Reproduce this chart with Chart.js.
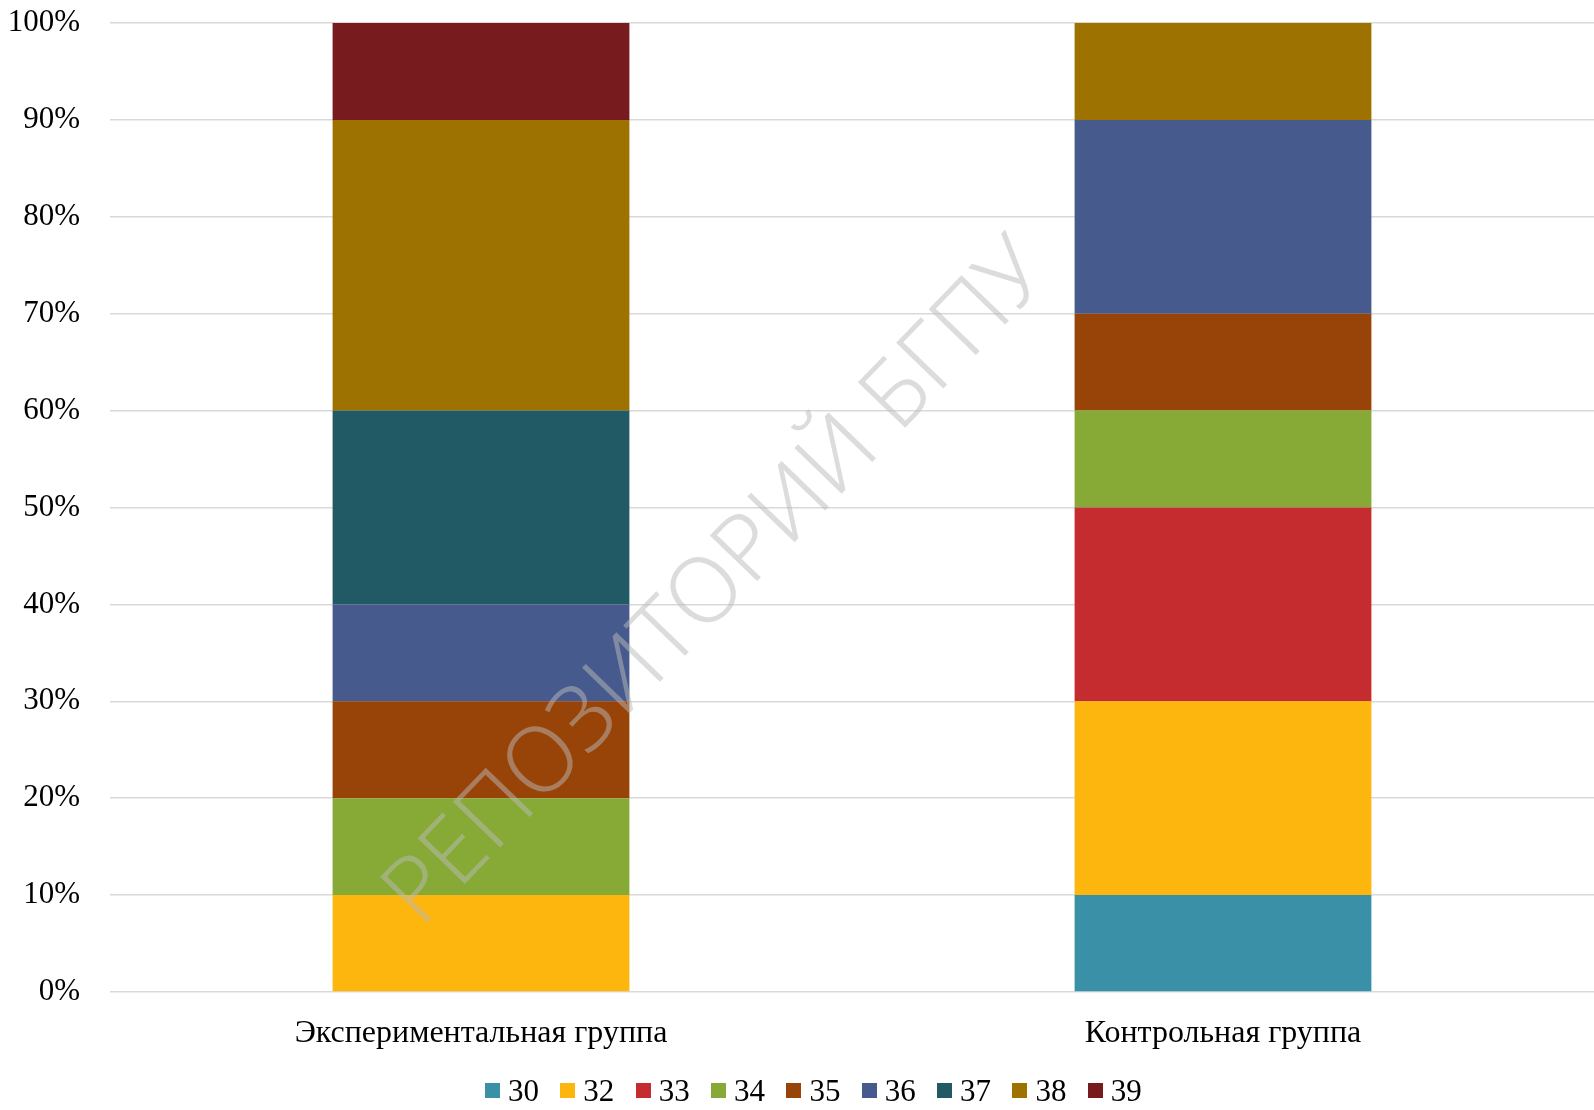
<!DOCTYPE html>
<html>
<head>
<meta charset="utf-8">
<script src="https://cdn.jsdelivr.net/npm/chart.js@4"></script>
<style>
  html, body { margin: 0; padding: 0; background: #fff; }
  #wrap { position: relative; width: 1594px; height: 1110px; }
  #legend {
    position: absolute; left: 485px; top: 1070px; height: 40px;
    display: flex; align-items: center;
    font-family: 'Liberation Serif', 'Times New Roman', serif; font-size: 31px; line-height: 1;
  }
  #legend .item { display: flex; align-items: center; width: 75.35px; }
  #legend .box { width: 15px; height: 15px; margin-right: 8px; }
</style>
</head>
<body>
<div id="wrap">
  <canvas id="chart" width="1594" height="1110"></canvas>
  <div id="legend"></div>
</div>
<script>
const groups = ["Экспериментальная группа", "Контрольная группа"];
const seriesNames = ["30", "32", "33", "34", "35", "36", "37", "38", "39"];
const seriesColors = ["#3A91A7", "#FDB60D", "#C42C2F", "#86AA35", "#984307", "#475A8D", "#215A65", "#9E7200", "#771B1E"];
// percent of each group, per score
const experimental = [0, 10, 0, 10, 10, 10, 20, 30, 10];
const control = [10, 20, 20, 10, 10, 20, 0, 10, 0];
const yTicks = [0, 10, 20, 30, 40, 50, 60, 70, 80, 90, 100];

const serif = "'Liberation Serif', 'Times New Roman', serif";

const watermark = {
  id: "watermark",
  afterDraw(chart) {
    const ctx = chart.ctx;
    ctx.save();
    ctx.translate(718, 584);
    ctx.rotate(-46 * Math.PI / 180);
    ctx.font = "300 92px 'Noto Sans', sans-serif";
    ctx.fillStyle = "rgba(185,185,185,0.5)";
    ctx.textAlign = "center";
    ctx.textBaseline = "middle";
    ctx.fillText("РЕПОЗИТОРИЙ БГПУ", 0, 0);
    ctx.restore();
  }
};

const datasets = seriesNames.map((name, i) => ({
  label: name,
  data: [experimental[i], control[i]],
  backgroundColor: seriesColors[i],
  borderWidth: 0,
  barPercentage: 0.5,
  categoryPercentage: 0.8,
}));

const chart = new Chart(document.getElementById("chart"), {
  type: "bar",
  data: { labels: groups, datasets: datasets },
  plugins: [watermark],
  options: {
    responsive: false,
    animation: false,
    layout: { padding: { top: 23, left: 0, right: 0, bottom: 47 } },
    plugins: {
      tooltip: { enabled: false },
      legend: { display: false },
    },
    scales: {
      x: {
        stacked: true,
        grid: { display: false, drawTicks: false },
        border: { display: false },
        ticks: { color: "#000", padding: 22, font: { family: serif, size: 32 } },
        afterFit: (axis) => { axis.height = 71; },
      },
      y: {
        stacked: true,
        min: 0,
        max: 100,
        afterBuildTicks: (axis) => { axis.ticks = yTicks.map(v => ({ value: v })); },
        afterFit: (axis) => { axis.width = 110; axis.paddingTop = 0; axis.paddingBottom = 0; },
        grid: { color: "#d9d9d9", lineWidth: 1.5, drawTicks: false },
        border: { display: false },
        ticks: {
          color: "#000",
          padding: 30,
          font: { family: serif, size: 31 },
          callback: (v) => v + "%",
        },
      },
    },
  },
});

// legend built from the chart's own datasets
const legendEl = document.getElementById("legend");
chart.data.datasets.forEach((ds) => {
  const item = document.createElement("div");
  item.className = "item";
  const box = document.createElement("span");
  box.className = "box";
  box.style.background = ds.backgroundColor;
  const txt = document.createElement("span");
  txt.textContent = ds.label;
  item.appendChild(box);
  item.appendChild(txt);
  legendEl.appendChild(item);
});
</script>
</body>
</html>
